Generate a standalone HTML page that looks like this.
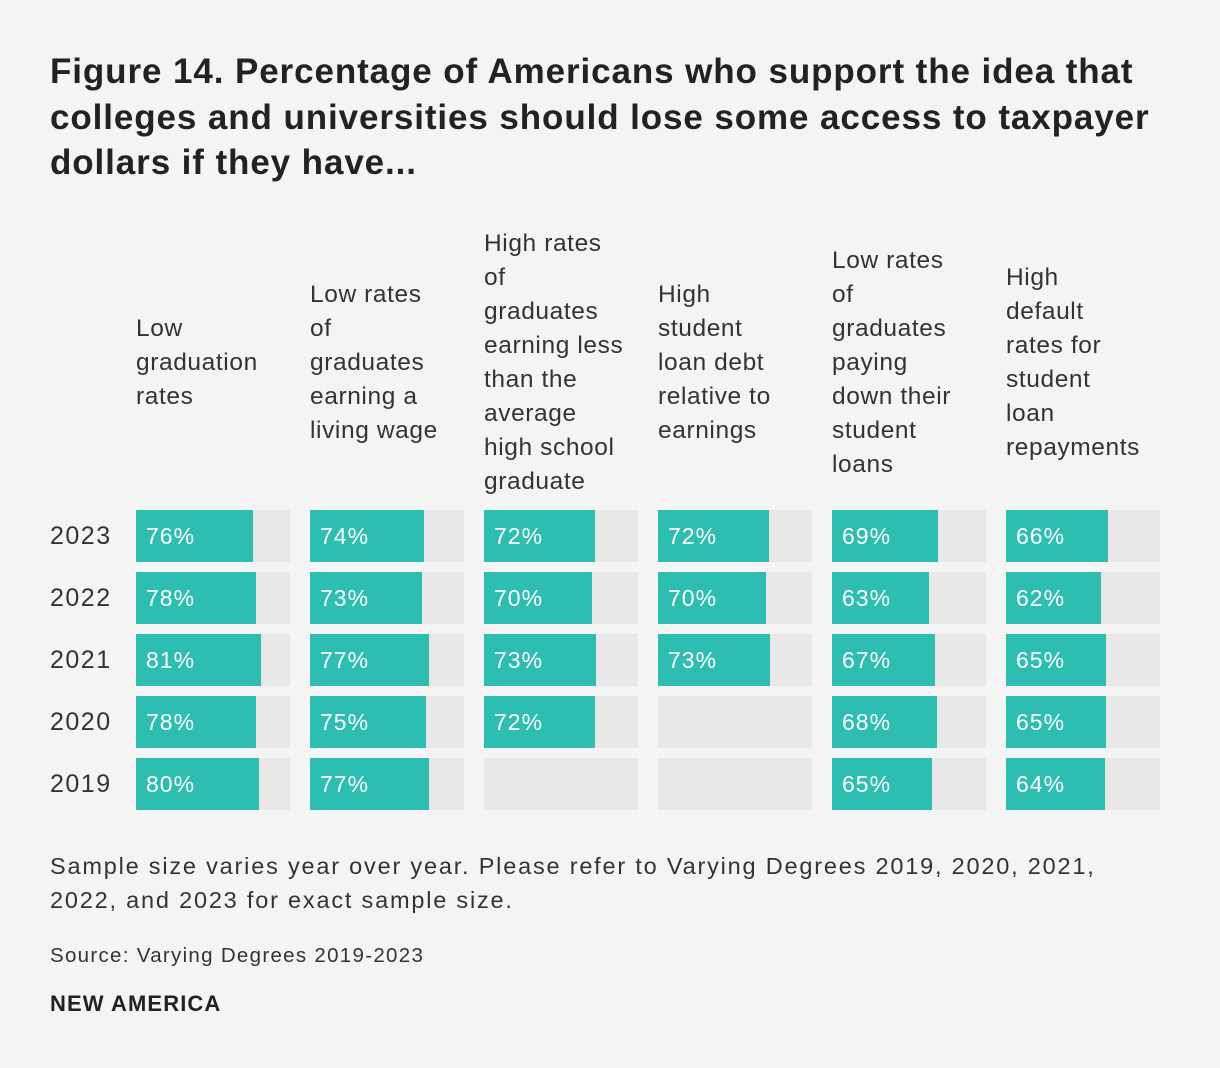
<!DOCTYPE html>
<html><head><meta charset="utf-8"><style>
body{margin:0;background:#f4f4f4;width:1220px;height:1068px;overflow:hidden;font-family:"Liberation Sans",sans-serif;color:#333;position:relative}
.abs{position:absolute}
#title{left:50px;top:49px;font-size:35px;font-weight:bold;line-height:45.5px;color:#222;width:1160px;letter-spacing:0.9px;white-space:nowrap}
.hdr{position:absolute;width:170px;font-size:24.5px;line-height:34px;color:#333;transform:translateY(-50%);top:363px;letter-spacing:0.6px}
.year{position:absolute;left:50px;font-size:25px;line-height:52px;letter-spacing:1.5px}
.track{position:absolute;width:154px;height:52px;background:#e8e8e8}
.bar{position:absolute;left:0;top:0;height:52px;background:#2ebdb1}
.val{position:absolute;left:10px;top:0;line-height:52px;color:#fff;font-size:23px;letter-spacing:1px}
</style></head><body>
<div id="title" class="abs">Figure 14. Percentage of Americans who support the idea that<br>colleges and universities should lose some access to taxpayer<br>dollars if they have...</div>
<div id="chart"></div>
<div class="abs" style="left:50px;top:849px;font-size:23.5px;line-height:34px;width:1160px;letter-spacing:1.8px;white-space:nowrap">Sample size varies year over year. Please refer to Varying Degrees 2019, 2020, 2021,<br>2022, and 2023 for exact sample size.</div>
<div class="abs" style="left:50px;top:944px;font-size:20.5px;letter-spacing:1.3px">Source: Varying Degrees 2019-2023</div>
<div class="abs" style="left:50px;top:991px;font-size:22px;font-weight:bold;color:#222;letter-spacing:1.1px">NEW AMERICA</div>
<script>
const categories=["Low<br>graduation<br>rates","Low rates<br>of<br>graduates<br>earning a<br>living wage","High rates<br>of<br>graduates<br>earning less<br>than the<br>average<br>high school<br>graduate","High<br>student<br>loan debt<br>relative to<br>earnings","Low rates<br>of<br>graduates<br>paying<br>down their<br>student<br>loans","High<br>default<br>rates for<br>student<br>loan<br>repayments"];
const years=["2023","2022","2021","2020","2019"];
const v2023=[76,74,72,72,69,66];
const v2022=[78,73,70,70,63,62];
const v2021=[81,77,73,73,67,65];
const v2020=[78,75,72,null,68,65];
const v2019=[80,77,null,null,65,64];
const series=[v2023,v2022,v2021,v2020,v2019];
const c=document.getElementById('chart');
const colX=i=>136+i*174, rowY=j=>510+j*62, w=v=>v/100*154;
categories.forEach((t,i)=>{
 const h=document.createElement('div');h.className='hdr';h.style.left=colX(i)+'px';h.innerHTML=t;
 
 
 c.appendChild(h);
});
years.forEach((y,j)=>{
 const l=document.createElement('div');l.className='year';l.style.top=rowY(j)+'px';l.textContent=y;
 
 
 c.appendChild(l);
 series[j].forEach((v,i)=>{
  const t=document.createElement('div');t.className='track';t.style.left=colX(i)+'px';t.style.top=rowY(j)+'px';
  
  
  if(v!=null){
   const b=document.createElement('div');b.className='bar';b.style.width=w(v)+'px';
   
   
   t.appendChild(b);
   const s=document.createElement('div');s.className='val';s.textContent=v+'%';
   
   
   t.appendChild(s);
  }
  c.appendChild(t);
 });
});
</script>
</body></html>
